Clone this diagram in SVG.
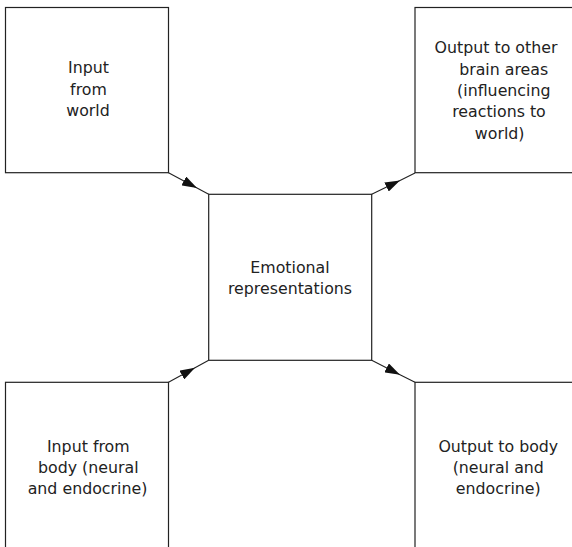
<svg xmlns="http://www.w3.org/2000/svg" width="572" height="547" viewBox="0 0 572 547">
<style>
.box{fill:#fff;stroke:#222;stroke-width:1.2}
.lbl{font-family:"DejaVu Sans",Verdana,sans-serif;font-size:15.8px;fill:#222;text-anchor:middle}
.con{fill:none;stroke:#222;stroke-width:1.1}
</style>
<defs>
<marker id="ah" viewBox="0 0 15 10" refX="15" refY="5" markerWidth="15" markerHeight="10" orient="auto" markerUnits="userSpaceOnUse">
<path d="M0,0 L15,5 L0,10 z" fill="#111"/>
</marker>
</defs>
<rect width="572" height="547" fill="#fff"/>
<g id="input-world">
<rect class="box" x="5.5" y="7.5" width="163" height="165.2"/>
<text class="lbl"><tspan x="88.5" y="73.3">Input</tspan><tspan x="88.5" y="94.5">from</tspan><tspan x="88" y="115.5">world</tspan></text>
</g>
<g id="output-brain">
<rect class="box" x="415" y="7.5" width="170" height="165.2"/>
<text class="lbl"><tspan x="496" y="53.3">Output to other</tspan><tspan x="503.7" y="74.6">brain areas</tspan><tspan x="503.8" y="95.9">(influencing</tspan><tspan x="499" y="117.2">reactions to</tspan><tspan x="499.7" y="138.5">world)</tspan></text>
</g>
<g id="emotional">
<rect class="box" x="208.7" y="194.3" width="163" height="166"/>
<text class="lbl"><tspan x="290" y="272.7">Emotional</tspan><tspan x="290" y="293.7">representations</tspan></text>
</g>
<g id="input-body">
<rect class="box" x="5.5" y="382.3" width="163" height="200"/>
<text class="lbl"><tspan x="88.3" y="451.7">Input from</tspan><tspan x="88.3" y="472.8">body (neural</tspan><tspan x="87.5" y="493.9">and endocrine)</tspan></text>
</g>
<g id="output-body">
<rect class="box" x="415" y="382.3" width="170" height="200"/>
<text class="lbl"><tspan x="498.3" y="451.7">Output to body</tspan><tspan x="498.3" y="472.8">(neural and</tspan><tspan x="498.3" y="493.9">endocrine)</tspan></text>
</g>
<g id="connectors">
<path class="con" marker-mid="url(#ah)" d="M168.5,172.7 L197,188 L208.7,194.3"/>
<path class="con" marker-mid="url(#ah)" d="M371.7,194.3 L400,180.4 L415,173"/>
<path class="con" marker-mid="url(#ah)" d="M168.5,382.3 L195,367.8 L208.7,360.3"/>
<path class="con" marker-mid="url(#ah)" d="M371.7,360.3 L400,374.7 L415,382.3"/>
</g>
</svg>
